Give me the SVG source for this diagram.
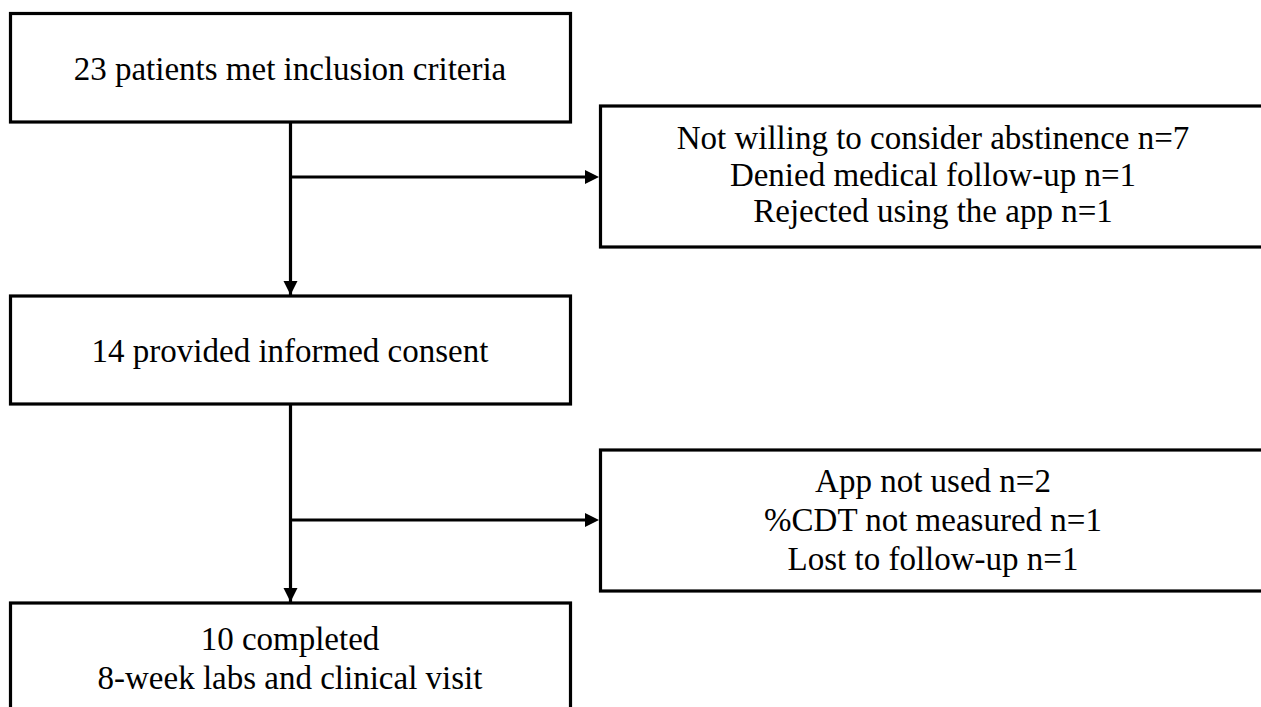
<svg xmlns="http://www.w3.org/2000/svg" width="1261" height="707" viewBox="0 0 1261 707">
<style>
.box{fill:#fff;stroke:#000;stroke-width:3.2}
.t{font-family:"Liberation Serif","Times New Roman",serif;font-size:33px;fill:#000;text-anchor:middle}
.c{fill:none;stroke:#000;stroke-width:3.2}
</style>
<defs>
<marker id="ah" markerWidth="14" markerHeight="14" refX="14" refY="7" orient="auto" markerUnits="userSpaceOnUse">
<path d="M0,0 L14,7 L0,14 Z" fill="#000"/>
</marker>
</defs>
<rect width="1261" height="707" fill="#fff"/>
<g id="n1"><rect class="box" x="10.5" y="13.5" width="560" height="108.5"/><text class="t" x="290" y="80">23 patients met inclusion criteria</text></g>
<g id="n2"><rect class="box" x="600.5" y="106" width="680" height="141"/><text class="t" x="933" y="149">Not willing to consider abstinence n=7</text><text class="t" x="933" y="186">Denied medical follow-up n=1</text><text class="t" x="933" y="222">Rejected using the app n=1</text></g>
<g id="n3"><rect class="box" x="10.5" y="296" width="560" height="108"/><text class="t" x="290" y="362">14 provided informed consent</text></g>
<g id="n4"><rect class="box" x="600.5" y="450" width="680" height="141"/><text class="t" x="933" y="492">App not used n=2</text><text class="t" x="933" y="531">%CDT not measured n=1</text><text class="t" x="933" y="570">Lost to follow-up n=1</text></g>
<g id="n5"><rect class="box" x="10.5" y="603" width="560" height="130"/><text class="t" x="290" y="650">10 completed</text><text class="t" x="290" y="689">8-week labs and clinical visit</text></g>
<g id="connectors">
<path class="c" d="M290.5,122 V295"/>
<path d="M283.5,281 L297.5,281 L290.5,295 Z" fill="#000"/>
<path class="c" d="M290.5,177 H585"/>
<path d="M585,170 L599,177 L585,184 Z" fill="#000"/>
<path class="c" d="M290.5,404 V602"/>
<path d="M283.5,588 L297.5,588 L290.5,602 Z" fill="#000"/>
<path class="c" d="M290.5,520 H585"/>
<path d="M585,513 L599,520 L585,527 Z" fill="#000"/>
</g>
</svg>
